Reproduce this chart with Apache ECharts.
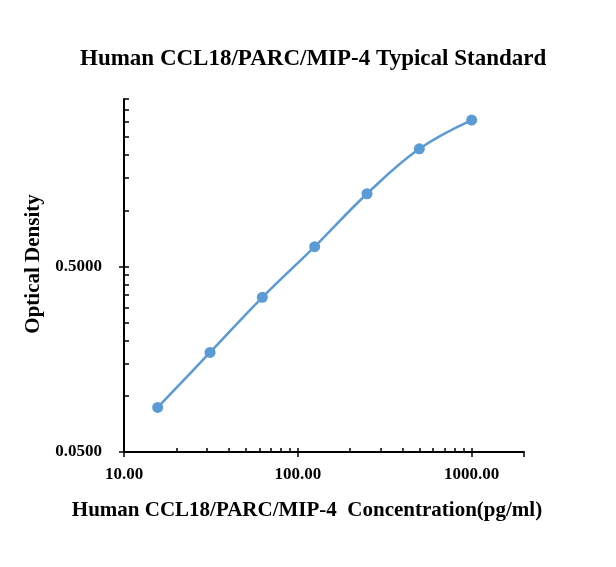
<!DOCTYPE html>
<html>
<head>
<meta charset="utf-8">
<script src="https://cdn.jsdelivr.net/npm/echarts@6.0.0/dist/echarts.min.js"></script>
<style>
html, body { margin: 0; padding: 0; background: #fff; }
#chart { width: 616px; height: 567px; }
</style>
</head>
<body>
<div id="chart"></div>
<script>
// standard curve readings
var concentration = [15.625, 31.25, 62.5, 125, 250, 500, 1000];
var density = [0.087, 0.172, 0.341, 0.640, 1.234, 2.155, 3.08];

// tick positions
var xMajor = [10, 100, 1000];
var xMinor = [20, 30, 40, 50, 60, 70, 80, 90, 200, 300, 400, 500, 600, 700, 800, 900];
var yMajor = [0.05, 0.5];
var yMinor = [0.1, 0.15, 0.2, 0.25, 0.3, 0.35, 0.4, 0.45, 1, 1.5, 2, 2.5, 3, 3.5, 4];

var serif = '"Liberation Serif", "Times New Roman", serif';

var chart = echarts.init(document.getElementById('chart'));

var pts = concentration.map(function (c, i) { return [c, density[i]]; });

var option = {
	backgroundColor: '#fff',
	animation: false,
	title: [{
		text: 'Human CCL18/PARC/MIP-4 Typical Standard',
		left: 80,
		top: 48,
		padding: 0,
		textStyle: { fontFamily: serif, fontWeight: 'bold', fontSize: 23, color: '#000' }
	}],
	graphic: [
		{
			type: 'text',
			x: 307,
			y: 511,
			style: {
				text: 'Human CCL18/PARC/MIP-4  Concentration(pg/ml)',
				textAlign: 'center',
				textVerticalAlign: 'middle',
				font: 'bold 21px ' + serif,
				fill: '#000'
			}
		},
		{
			type: 'text',
			x: 34,
			y: 264,
			rotation: Math.PI / 2,
			style: {
				text: 'Optical Density',
				textAlign: 'center',
				textVerticalAlign: 'middle',
				font: 'bold 21px ' + serif,
				fill: '#000'
			}
		}
	],
	grid: { left: 124, right: 92, top: 99, bottom: 115, outerBoundsMode: 'none' },
	xAxis: [
		{
			type: 'log', logBase: 10, min: 10, max: 2000, position: 'bottom',
			axisLine: { onZero: false, lineStyle: { color: '#000', width: 2 } },
			axisTick: { show: true, inside: false, length: 5, lineStyle: { color: '#000', width: 1.5 }, customValues: xMajor.concat([2000]) },
			axisLabel: {
				customValues: xMajor, margin: 14,
				fontFamily: serif, fontWeight: 'bold', fontSize: 17, color: '#000',
				formatter: function (v) { return v.toFixed(2); }
			},
			splitLine: { show: false }
		},
		{
			type: 'log', logBase: 10, min: 10, max: 2000, position: 'bottom',
			axisLine: { show: false, onZero: false },
			axisTick: { show: true, inside: true, length: 4, lineStyle: { color: '#000', width: 1.5 }, customValues: xMajor.concat(xMinor) },
			axisLabel: { show: false },
			splitLine: { show: false }
		}
	],
	yAxis: [
		{
			type: 'log', logBase: 10, min: 0.05, max: 4, position: 'left',
			axisLine: { show: true, onZero: false, lineStyle: { color: '#000', width: 2 } },
			axisTick: { show: true, inside: false, length: 5, lineStyle: { color: '#000', width: 1.5 }, customValues: yMajor },
			axisLabel: {
				customValues: yMajor, margin: 22,
				fontFamily: serif, fontWeight: 'bold', fontSize: 17, color: '#000',
				formatter: function (v) { return v.toFixed(4); }
			},
			splitLine: { show: false }
		},
		{
			type: 'log', logBase: 10, min: 0.05, max: 4, position: 'left',
			axisLine: { show: false, onZero: false },
			axisTick: { show: true, inside: true, length: 5, lineStyle: { color: '#000', width: 1.5 }, customValues: yMajor.concat(yMinor) },
			axisLabel: { show: false },
			splitLine: { show: false }
		}
	],
	series: [
		{
			type: 'line',
			xAxisIndex: 0,
			yAxisIndex: 0,
			data: pts,
			smooth: 0.4,
			symbol: 'circle',
			symbolSize: 11,
			lineStyle: { color: '#5B9BD5', width: 2.5 },
			itemStyle: { color: '#5B9BD5' }
		}
	]
};
chart.setOption(option);
</script>
</body>
</html>
